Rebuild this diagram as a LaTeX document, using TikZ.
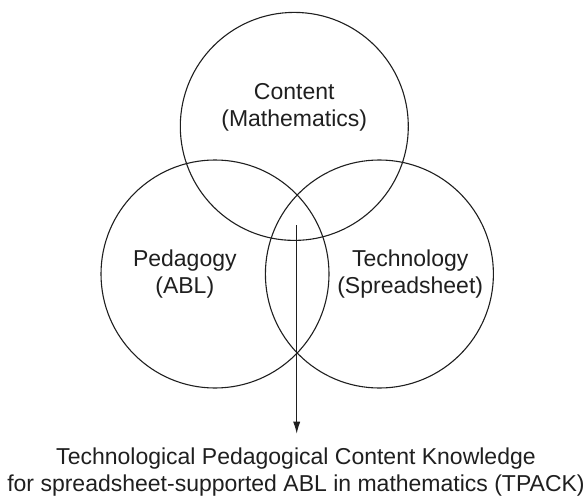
\documentclass[tikz,border=0pt]{standalone}
\usepackage{fontspec}
\setmainfont{Liberation Sans}
\usetikzlibrary{arrows.meta}
\begin{document}
\begin{tikzpicture}[x=0.5pt,y=-0.5pt,
  set/.style={draw=black!88, line width=0.55pt, circle, inner sep=0pt, minimum size=114pt},
  lbl/.style={font=\fontsize{11.5}{13.5}\selectfont, align=center, inner sep=0pt, anchor=base, text=black!88},
  arr/.style={draw=black!88, line width=0.55pt, -{Latex[length=6pt,width=3.6pt]}}]
\useasboundingbox (0,0) rectangle (587,497);
\node[set] (C) at (294.3,126.4) {};
\node[set] (P) at (215,274) {};
\node[set] (T) at (379.4,274) {};
\node[lbl] (Ct) at (294.2,126.7) {Content\\(Mathematics)};
\node[lbl] (Pt) at (184.8,293.3) {Pedagogy\\(ABL)};
\node[lbl] (Tt) at (410.2,293.3) {Technology\\(Spreadsheet)};
\node[lbl] (K) at (296,491) {Technological Pedagogical Content Knowledge\\for spreadsheet-supported ABL in mathematics (TPACK)};
\coordinate (A) at (296.7,225);
\draw[arr, shorten >=6.6pt] (A) -- (K.north -| A);
\end{tikzpicture}
\end{document}
